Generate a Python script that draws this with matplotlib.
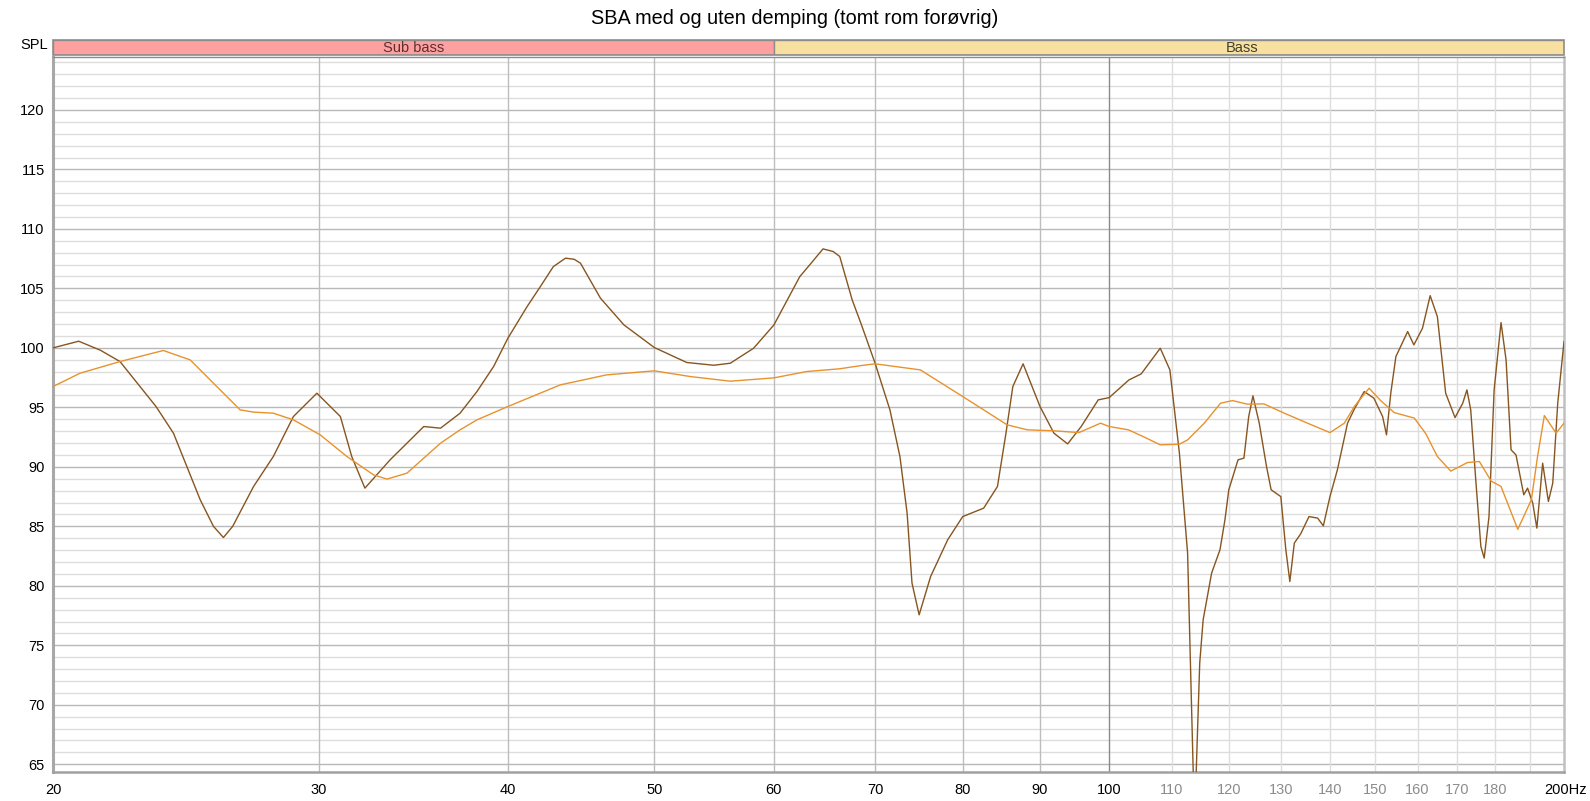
import numpy as np
import matplotlib
matplotlib.use("Agg")
import matplotlib.pyplot as plt
from matplotlib.patches import Rectangle
from matplotlib.ticker import NullFormatter, NullLocator

plt.rcParams['font.family'] = ['Liberation Sans', 'DejaVu Sans']

title = "SBA med og uten demping (tomt rom forøvrig)"

# Dark (brown) curve
dark_freq = [20.0, 20.8, 21.5, 22.15, 23.4, 24.03, 25.03, 25.54, 25.93, 26.3, 27.15, 27.98, 28.85, 29.9,
             30.99, 31.53, 32.17, 33.43, 35.19, 36.1, 37.19, 38.16, 39.14, 40.0, 41.19, 42.03, 42.87,
             43.67, 44.25, 44.68, 46.06, 47.74, 50.0, 52.54, 54.74, 56.14, 58.17, 60.0, 62.41, 63.5, 64.66,
             65.67, 66.33, 67.6, 68.5, 70.0, 71.6, 72.7, 73.5, 74.05, 74.86, 76.18, 78.19, 80.0, 82.6, 84.35,
             85.45, 86.35, 87.71, 90.0, 91.93, 93.87, 95.83, 98.35, 100.0, 103.07, 105.0, 108.1, 109.7, 111.3,
             112.7, 113.9, 114.8, 115.4, 116.9, 118.4, 119.3, 120.0, 121.7, 122.8, 123.7, 124.5, 125.7,
             127.1, 128.0, 129.9, 130.9, 131.7, 132.6, 133.9, 135.6, 137.4, 138.6, 140.0, 141.6, 143.8,
             145.3, 147.5, 149.7, 151.7, 152.6, 153.6, 154.8, 157.6, 159.1, 161.2, 163.1, 164.9, 167.0,
             169.4, 171.4, 172.5, 173.5, 174.9, 176.2, 177.1, 178.4, 179.8, 181.7, 183.1, 184.5, 185.9,
             188.1, 189.2, 190.7, 191.9, 193.6, 195.3, 196.6, 198.1, 200.0]
dark_db = [100.0, 100.56, 99.8, 98.85, 95.07, 92.83, 87.23, 85.0, 84.06, 85.0, 88.35, 90.87, 94.23, 96.19,
           94.23, 90.87, 88.21, 90.59, 93.39, 93.25, 94.51, 96.33, 98.43, 100.81, 103.47, 105.15, 106.83,
           107.54, 107.45, 107.12, 104.18, 101.93, 100.03, 98.77, 98.54, 98.71, 99.97, 101.93, 105.99, 107.12, 108.32,
           108.1, 107.68, 104.03, 102.07, 98.71, 94.79, 90.87, 86.11, 80.23, 77.56, 80.78, 83.87, 85.82, 86.53, 88.35,
           92.83, 96.75, 98.66, 95.07, 92.83, 91.93, 93.39, 95.63, 95.82, 97.31, 97.81, 99.97, 98.15, 91.15,
           82.75, 60.0, 73.5, 77.14, 81.07, 83.03, 85.55, 88.07, 90.59, 90.73, 94.23, 95.97, 93.67,
           90.03, 88.07, 87.5, 83.03, 80.36, 83.59, 84.37, 85.82, 85.69, 85.04, 87.5, 89.75, 93.67,
           94.85, 96.33, 95.77, 94.23, 92.69, 96.19, 99.27, 101.37, 100.25, 101.65, 104.39, 102.63, 96.19,
           94.14, 95.35, 96.47, 94.79, 88.63, 83.31, 82.33, 85.82, 96.47, 102.13, 98.99, 91.43, 91.0,
           87.65, 88.21, 86.95, 84.85, 90.31, 87.09, 88.63, 95.35, 100.53]

# Orange curve
orange_freq = [20.0, 20.84, 22.15, 23.66, 24.65, 25.54, 26.6, 27.15, 27.98, 28.85, 30.05, 31.3, 32.59,
               33.27, 34.3, 36.1, 37.19, 38.16, 40.0, 43.33, 46.49, 50.0, 52.82, 56.14, 60.0, 63.06, 66.3,
               68.5, 70.0, 75.0, 80.0, 82.6, 85.6, 88.3, 91.9, 95.5, 98.7, 100.0, 103.0, 105.5, 108.1,
               111.3, 112.7, 115.6, 118.5, 120.7, 123.4, 126.6, 130.6, 135.3, 140.0, 143.1, 145.3, 148.6,
               151.3, 154.4, 159.2, 162.0, 164.9, 168.3, 172.6, 175.8, 179.0, 181.7, 186.4, 190.3, 192.1,
               194.1, 197.6, 200.0]
orange_db = [96.75, 97.87, 98.85, 99.78, 98.99, 97.03, 94.79, 94.6, 94.51, 93.95, 92.69, 90.87, 89.33,
             88.97, 89.47, 91.99, 93.11, 93.95, 95.07, 96.89, 97.73, 98.07, 97.59, 97.2, 97.48, 98.01, 98.24,
             98.51, 98.66, 98.15, 95.91, 94.79, 93.53, 93.11, 93.03, 92.88, 93.67, 93.39, 93.11, 92.5, 91.85,
             91.9, 92.27, 93.67, 95.35, 95.57, 95.27, 95.29, 94.51, 93.67, 92.88, 93.67, 95.07, 96.61,
             95.55, 94.56, 94.1, 92.8, 90.87, 89.64, 90.36, 90.45, 88.8, 88.35, 84.75, 87.23, 90.87,
             94.31, 92.83, 93.67]

# Bands
band_names = ["Sub bass", "Bass"]
band_lo = [20, 60]
band_hi = [60, 250]
band_colors = ["#FFA0A0", "#F8E1A0"]
band_text_colors = ["#5a3030", "#404030"]

# Axis ticks
y_major = list(range(65, 125, 5))
y_minor = list(range(65, 125, 1))
x_ticks_main = [20, 30, 40, 50, 60, 70, 80, 90, 100]
x_ticks_minor_lbl = [110, 120, 130, 140, 150, 160, 170, 180]
x_grid_light = [110, 120, 130, 140, 150, 160, 170, 180, 190]

W, H = 1590, 801
fig = plt.figure(figsize=(W / 100, H / 100), dpi=100)
L, R, T, B = 53, 1564, 57, 772
ax = fig.add_axes([L / W, 1 - B / H, (R - L) / W, (B - T) / H])
ax.set_xscale('log')
ax.set_xlim(20, 200)
ax.set_ylim(64.35, 124.45)

# grid
for y in y_minor:
    if y % 5 != 0:
        ax.axhline(y, color='#DDDDDD', lw=1.0, zorder=0)
for y in y_major:
    ax.axhline(y, color='#B8B8B8', lw=1.0, zorder=0.5)
for x in [30, 40, 50, 60, 70, 80, 90]:
    ax.axvline(x, color='#BDBDBD', lw=1.0, zorder=0.6)
for x in x_grid_light:
    ax.axvline(x, color='#DEDEDE', lw=1.0, zorder=0.6)
ax.axvline(100, color='#8A8A8A', lw=1.0, zorder=0.7)

ax.plot(dark_freq, dark_db, color='#875520', lw=1.0, zorder=3, solid_joinstyle='round')
ax.plot(orange_freq, orange_db, color='#E8922E', lw=1.0, zorder=4, solid_joinstyle='round')

ax.set_yticks(y_major)
ax.set_yticklabels([str(v) for v in y_major])
ax.yaxis.set_minor_locator(NullLocator())
xt = x_ticks_main + x_ticks_minor_lbl
ax.set_xticks(xt)
ax.set_xticklabels([str(v) for v in xt])
ax.xaxis.set_minor_locator(NullLocator())
ax.xaxis.set_minor_formatter(NullFormatter())
ax.tick_params(axis='both', length=0, labelsize=10.5)
ax.tick_params(axis='y', pad=6)
ax.tick_params(axis='x', pad=8)
for lbl, v in zip(ax.get_xticklabels(), xt):
    if 100 < v < 200:
        lbl.set_color('#8C8C8C')
ax.annotate("200Hz", xy=(200, 0), xycoords=('data', 'axes fraction'), xytext=(-20, -11),
            textcoords='offset pixels', ha='left', va='top', fontsize=10.5)

for s in ax.spines.values():
    s.set_color('#8C8C8C')
    s.set_linewidth(1.0)
ax.spines['left'].set_linewidth(2.2)
ax.spines['left'].set_color('#A8A8A8')
ax.spines['bottom'].set_linewidth(1.8)
ax.spines['bottom'].set_color('#A0A0A0')
ax.spines['right'].set_linewidth(1.8)
ax.spines['right'].set_color('#C0C0C0')

# band bar
bt, bb = 40, 55
bax = fig.add_axes([L / W, 1 - bb / H, (R - L) / W, (bb - bt) / H])
bax.set_xscale('log')
bax.set_xlim(20, 200)
bax.set_ylim(0, 1)
bax.axis('off')
for name, lo, hi, c, tc in zip(band_names, band_lo, band_hi, band_colors, band_text_colors):
    bax.add_patch(Rectangle((lo, 0), hi - lo, 1, facecolor=c, edgecolor='#8C8C8C', lw=1.0, clip_on=True))
    bax.text(np.sqrt(lo * hi), 0.45, name, ha='center', va='center', fontsize=10.5, color=tc)
bax.add_patch(Rectangle((20, 0), 180, 1, facecolor='none', edgecolor='#8C8C8C', lw=1.2, clip_on=False))

fig.text(48 / W, 1 - 45 / H, "SPL", ha='right', va='center', fontsize=10.5)
fig.text(0.5, 1 - 19 / H, title, ha='center', va='center', fontsize=14.3)

fig.savefig("out.png", dpi=100, facecolor='white')
